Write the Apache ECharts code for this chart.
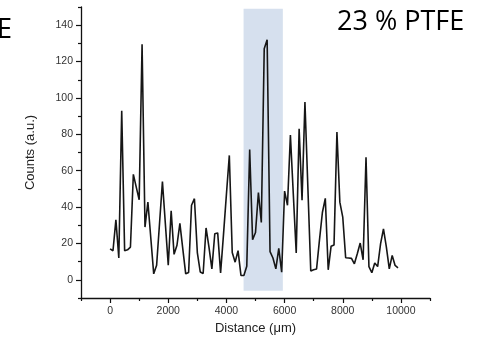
<!DOCTYPE html>
<html><head><meta charset="utf-8">
<script src="https://cdn.jsdelivr.net/npm/echarts@6/dist/echarts.min.js"></script>
<style>html,body{margin:0;padding:0;background:#fff}#c{width:479px;height:343px}</style>
</head><body><div id="c"></div>
<script>
// ---- data ----
const distances = [0,100,200,300,400,500,600,700,800,900,
  1000,1100,1200,1300,1400,1500,1600,1700,1800,1900,
  2000,2100,2200,2300,2400,2500,2600,2700,2800,2900,
  3000,3100,3200,3300,3400,3500,3600,3700,3800,3900,
  4000,4100,4200,4300,4400,4500,4600,4700,4800,4900,
  5000,5100,5200,5300,5400,5500,5600,5700,5800,5900,
  6000,6100,6200,6300,6400,6500,6600,6700,6800,6900,
  7000,7100,7200,7300,7400,7500,7600,7700,7800,7900,
  8000,8100,8200,8300,8400,8500,8600,8700,8800,8900,
  9000,9100,9200,9300,9400,9500,9600,9700,9800,9900];
const counts = [17,16,33,12,93,16,16.5,18,58,51,
  44,129.5,29,42.7,23,3.3,8,31,54,31,
  8,38,14,19,31,17,3.3,4,41,44.6,
  15,4.3,3.5,28.5,18,6,25.3,25.8,3.8,25,
  47,68.4,15,9.7,16,2.4,2.4,7.5,71.6,22,
  26,48,31.5,127,132,15.5,12,6,17.3,4.2,
  48.8,41,79.6,47,14.8,83,43.7,97.8,51,4.8,
  5.5,6,22,37,44.8,5.5,18.5,19.2,81.3,42.7,
  34.5,12.1,12,11.8,8.8,14.3,20.2,11,67.4,7.2,
  3.9,9.2,7.3,19.8,28,18,6,13.4,7.9,6.6];
const xMajorTicks = [0,2000,4000,6000,8000,10000];
const xMinorTicks = [-1000,1000,3000,5000,7000,9000,11000];
const yMajorTicks = [0,20,40,60,80,100,120,140];
const yMinorTicks = [-10,10,30,50,70,90,110,130,150];
const bandX = [4590, 5940];
const bandY = [-6, 149];
const xName = 'Distance (\u03bcm)';
const yName = 'Counts (a.u.)';
const titleText = '23 % PTFE';
const cutText = 'E';

// ---- chart ----
const chart = echarts.init(document.getElementById('c'), null, {renderer:'canvas'});
const font = 'Liberation Sans, Arial, sans-serif';
const axisCol = '#111';
const grid = {left:81, right:49, top:7, bottom:45};
function majorAxis(isX){
  return {
    type:'value', min: isX ? -1000 : -10, max: isX ? 11000 : 150,
    position: isX ? 'bottom' : 'left',
    name: isX ? xName : yName, nameLocation:'middle',
    nameGap: isX ? 22 : 44,
    nameTextStyle:{fontFamily:font, fontSize:13, color:'#222'},
    axisLine:{show:true, onZero:false, lineStyle:{color:axisCol, width:1.3}},
    axisTick:{show:true, inside:false, length:5, lineStyle:{color:axisCol, width:1.2},
      customValues: isX ? xMajorTicks : yMajorTicks},
    axisLabel:{show:true, fontFamily:font, fontSize:10.5, color:'#333', margin:8,
      formatter: v => String(v),
      customValues: isX ? xMajorTicks : yMajorTicks},
    splitLine:{show:false}, minorTick:{show:false}
  };
}
function minorAxis(isX){
  return {
    type:'value', min: isX ? -1000 : -10, max: isX ? 11000 : 150,
    position: isX ? 'bottom' : 'left',
    axisLine:{show:false, onZero:false},
    axisTick:{show:true, length:3, lineStyle:{color:axisCol, width:1.2},
      customValues: isX ? xMinorTicks : yMinorTicks},
    axisLabel:{show:false}, splitLine:{show:false}
  };
}
chart.setOption({
  animation:false,
  backgroundColor:'#fff',
  grid: grid,
  xAxis:[majorAxis(true), minorAxis(true)],
  yAxis:[majorAxis(false), minorAxis(false)],
  graphic:[
    {type:'text', left:337, top:9, style:{text:titleText, fontFamily:'Open Sans, Noto Sans, sans-serif', fontSize:27, fill:'#000'}},
    {type:'text', left:-3, top:17, style:{text:cutText, fontFamily:'Open Sans, Noto Sans, sans-serif', fontSize:27, fill:'#000'}}
  ],
  series:[{
    type:'line', xAxisIndex:0, yAxisIndex:0,
    data: distances.map((d,i)=>[d, counts[i]]),
    showSymbol:false, symbol:'none',
    lineStyle:{color:'#161616', width:1.6},
    markArea:{silent:true, itemStyle:{color:'#d6e0ee'},
      data:[[{xAxis:bandX[0], yAxis:bandY[0]},{xAxis:bandX[1], yAxis:bandY[1]}]]}
  }]
});
</script></body></html>
